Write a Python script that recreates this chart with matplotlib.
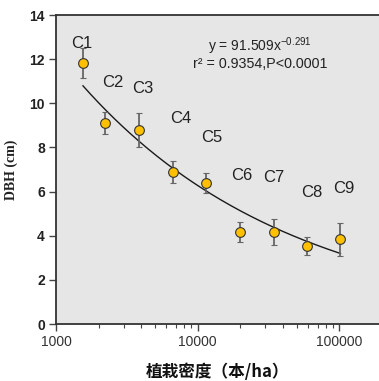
import numpy as np
import matplotlib
matplotlib.use('Agg')
import matplotlib.pyplot as plt
from matplotlib.ticker import LogLocator, NullFormatter, FixedLocator

# 数据
labels = ['C1', 'C2', 'C3', 'C4', 'C5', 'C6', 'C7', 'C8', 'C9']
density = [1550, 2210, 3850, 6670, 11400, 19800, 34300, 59200, 101600]
dbh = [11.83, 9.12, 8.79, 6.89, 6.39, 4.18, 4.16, 3.52, 3.84]
dbh_err = [0.68, 0.50, 0.77, 0.50, 0.45, 0.46, 0.58, 0.40, 0.75]
# 标签位置
label_x = [1524, 2518, 4100, 7590, 12560, 20400, 34300, 63500, 106700]
label_y = [12.73, 10.96, 10.69, 9.29, 8.47, 6.71, 6.66, 5.94, 6.16]
# 拟合曲线 y = a * x^b
fit_a = 91.509
fit_b = -0.291

fig = plt.figure(figsize=(3.79, 3.81), dpi=100)
ax = fig.add_axes([0.1478, 0.1496, 0.8522, 0.811])
ax.set_facecolor('#e6e6e6')

xs = np.logspace(np.log10(density[0]), np.log10(density[-1]), 200)
ax.plot(xs, fit_a * xs ** fit_b, color='#1a1a1a', linewidth=1.0, zorder=2)

ax.errorbar(density, dbh, yerr=dbh_err, fmt='o', color='#666666', ecolor='#666666',
            elinewidth=1.3, capsize=2.5, capthick=1.0,
            markerfacecolor='#ffc000', markeredgecolor='#333333',
            markeredgewidth=0.8, markersize=7, zorder=3)

for lab, lx, ly in zip(labels, label_x, label_y):
    ax.text(lx, ly, lab, ha='center', va='center', fontsize=12,
            family='Liberation Sans', color='#222222')

ax.text(0.632, 0.899, r'y = 91.509x$^{\mathregular{-0.291}}$', transform=ax.transAxes,
        ha='center', va='center', fontsize=10, family='Liberation Sans', color='#222222')
ax.text(0.632, 0.843, 'r² = 0.9354,P<0.0001', transform=ax.transAxes,
        ha='center', va='center', fontsize=10.3, family='Liberation Sans', color='#222222')

ax.set_xscale('log')
ax.set_xlim(1000, 1.9e5)
ax.set_ylim(0, 14)
ax.yaxis.set_major_locator(FixedLocator([0, 2, 4, 6, 8, 10, 12, 14]))
ax.xaxis.set_major_locator(FixedLocator([1000, 10000, 100000]))
ax.xaxis.set_minor_locator(LogLocator(base=10, subs=np.arange(2, 10)))
ax.xaxis.set_minor_formatter(NullFormatter())
ax.set_xticklabels(['1000', '10000', '100000'], fontsize=10,
                   family='Liberation Sans', color='#333333')
for t in ax.get_yticklabels():
    t.set_fontsize(10)
    t.set_fontweight('bold')
    t.set_family('Liberation Sans')
    t.set_color('#222222')

ax.tick_params(axis='both', which='major', direction='out', length=5, width=1,
               color='#444444', pad=3)
ax.tick_params(axis='x', which='minor', direction='out', length=3, width=0.8,
               color='#444444')

ax.spines['right'].set_visible(False)
for s in ['left', 'bottom', 'top']:
    ax.spines[s].set_color('#333333')
    ax.spines[s].set_linewidth(1.3)

ax.set_ylabel('DBH (cm)', fontsize=10, fontweight='bold', family='Liberation Serif',
              color='#222222', labelpad=8)
ax.set_xlabel('植栽密度（本/ha）', fontsize=12, fontweight='bold',
              family=['Noto Sans CJK SC', 'DejaVu Sans'], color='#111111', labelpad=10)

fig.savefig('out.png', dpi=100)
